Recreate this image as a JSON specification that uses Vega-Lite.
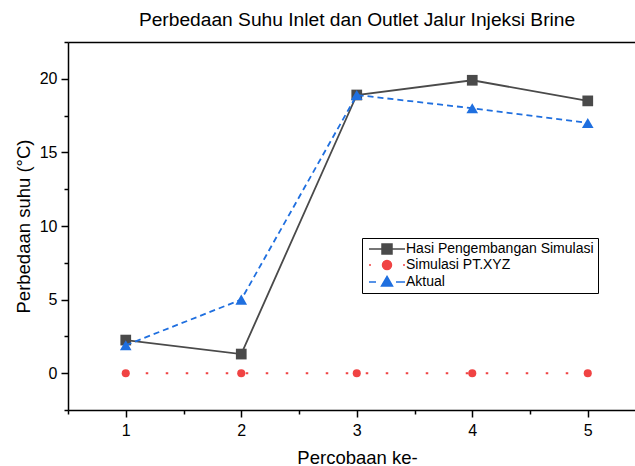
{
  "$schema": "https://vega.github.io/schema/vega-lite/v6.json",
  "width": 567,
  "height": 368,
  "autosize": "none",
  "padding": {"left": 68, "top": 42, "right": 0, "bottom": 56},
  "background": "white",
  "config": {
    "font": "Liberation Sans",
    "view": {"stroke": null},
    "axis": {
      "grid": false,
      "domainColor": "black",
      "domainWidth": 1.5,
      "tickColor": "black",
      "tickWidth": 1.5,
      "labelColor": "black",
      "labelFont": "Liberation Sans",
      "labelFontSize": 16,
      "titleFont": "Liberation Sans",
      "titleFontSize": 18.5,
      "titleFontWeight": "normal",
      "titleColor": "black",
      "labelFlush": false,
      "labelOverlap": false
    }
  },
  "title": {
    "text": "Perbedaan Suhu Inlet dan Outlet Jalur Injeksi Brine",
    "font": "Liberation Sans",
    "fontSize": 19.2,
    "fontWeight": "normal",
    "color": "black",
    "anchor": "middle",
    "offset": 4,
    "dx": 5.5
  },
  "data": {
    "values": [
      {"x": 1, "y": 2.25, "series": "Hasi Pengembangan Simulasi"},
      {"x": 2, "y": 1.3, "series": "Hasi Pengembangan Simulasi"},
      {"x": 3, "y": 18.9, "series": "Hasi Pengembangan Simulasi"},
      {"x": 4, "y": 19.9, "series": "Hasi Pengembangan Simulasi"},
      {"x": 5, "y": 18.5, "series": "Hasi Pengembangan Simulasi"},
      {"x": 1, "y": 0, "series": "Simulasi PT.XYZ"},
      {"x": 2, "y": 0, "series": "Simulasi PT.XYZ"},
      {"x": 3, "y": 0, "series": "Simulasi PT.XYZ"},
      {"x": 4, "y": 0, "series": "Simulasi PT.XYZ"},
      {"x": 5, "y": 0, "series": "Simulasi PT.XYZ"},
      {"x": 1, "y": 1.9, "series": "Aktual"},
      {"x": 2, "y": 5.0, "series": "Aktual"},
      {"x": 3, "y": 18.9, "series": "Aktual"},
      {"x": 4, "y": 18.0, "series": "Aktual"},
      {"x": 5, "y": 17.0, "series": "Aktual"}
    ]
  },
  "encoding": {
    "y": {
      "field": "y",
      "type": "quantitative",
      "scale": {"domain": [-2.5, 22.5], "nice": false, "zero": false},
      "axis": {
        "values": [-2.5, 0, 2.5, 5, 7.5, 10, 12.5, 15, 17.5, 20, 22.5],
        "labelExpr": "datum.value % 5 === 0 ? '' + datum.value : ''",
        "tickSize": {"condition": {"test": "datum.value % 5 !== 0", "value": 4}, "value": 7},
        "labelPadding": 4,
        "title": "Perbedaan suhu (°C)",
        "titlePadding": 6
      }
    }
  },
  "layer": [
    {
      "transform": [{"filter": "datum.series === 'Hasi Pengembangan Simulasi'"}],
      "mark": {"type": "line", "strokeWidth": 1.8, "color": "#4a4a4a", "point": {"filled": true, "shape": "square", "size": 115, "opacity": 1, "color": "#4a4a4a"}},
      "encoding": {
        "x": {
          "field": "x",
          "type": "quantitative",
          "scale": {"domain": [0.5, 5.409], "nice": false, "zero": false},
          "axis": {
            "orient": "bottom",
            "values": [0.5, 1, 1.5, 2, 2.5, 3, 3.5, 4, 4.5, 5],
            "labelExpr": "datum.value % 1 === 0 ? '' + datum.value : ''",
            "tickSize": {"condition": {"test": "datum.value % 1 !== 0", "value": 4}, "value": 7},
            "labelPadding": 5,
            "title": "Percobaan ke-",
            "titleX": 289,
            "titleAlign": "center",
            "titlePadding": 10
          }
        }
      }
    },
    {
      "transform": [{"filter": "datum.series === 'Simulasi PT.XYZ'"}],
      "mark": {"type": "line", "strokeWidth": 2, "color": "#f04343", "strokeDash": [2.5, 17.5], "point": {"filled": true, "shape": "circle", "size": 65, "opacity": 1, "color": "#f04343"}},
      "encoding": {
        "x": {
          "field": "x",
          "type": "quantitative",
          "axis": {
            "orient": "top",
            "ticks": false,
            "labels": false,
            "title": null,
            "domain": true
          }
        }
      }
    },
    {
      "transform": [{"filter": "datum.series === 'Aktual'"}],
      "mark": {"type": "line", "strokeWidth": 1.8, "color": "#1f6fdf", "strokeDash": [6, 4], "point": {"filled": true, "shape": "triangle-up", "size": 135, "opacity": 1, "color": "#1f6fdf"}},
      "encoding": {
        "x": {"field": "x", "type": "quantitative", "axis": null}
      }
    },
    {
      "transform": [{"filter": "datum.x > 100"}],
      "mark": {"type": "point", "filled": true, "opacity": 1},
      "encoding": {
        "fill": {
          "field": "series",
          "type": "nominal",
          "scale": {
            "domain": ["Hasi Pengembangan Simulasi", "Simulasi PT.XYZ", "Aktual"],
            "range": ["#4a4a4a", "#f04343", "#1f6fdf"]
          },
          "legend": {
            "orient": "none",
            "legendX": 294,
            "legendY": 196,
            "title": null,
            "strokeColor": "black",
            "fillColor": "white",
            "padding": 4,
            "labelFont": "Liberation Sans",
            "labelFontSize": 14,
            "labelColor": "black",
            "labelLimit": 400,
            "symbolSize": 100,
            "symbolStrokeWidth": 1.5,
            "symbolOpacity": 1,
            "labelOffset": 26,
            "rowPadding": 0
          }
        },
        "stroke": {
          "field": "series",
          "type": "nominal",
          "scale": {
            "domain": ["Hasi Pengembangan Simulasi", "Simulasi PT.XYZ", "Aktual"],
            "range": ["#4a4a4a", "#f04343", "#1f6fdf"]
          }
        },
        "shape": {
          "field": "series",
          "type": "nominal",
          "scale": {
            "domain": ["Hasi Pengembangan Simulasi", "Simulasi PT.XYZ", "Aktual"],
            "range": [
              "M-0.8,0H6.4M1.8,-1H3.8V1H1.8Z",
              "M-0.8,0H-0.4M6,0H6.4M3.7,0A0.9,0.9,0,1,1,1.9,0A0.9,0.9,0,1,1,3.7,0Z",
              "M-0.8,0H0.6M4.6,0H6.4M2.8,-1.1L3.9,0.8H1.7Z"
            ]
          }
        }
      }
    }
  ],
  "resolve": {"axis": {"x": "independent"}}
}
